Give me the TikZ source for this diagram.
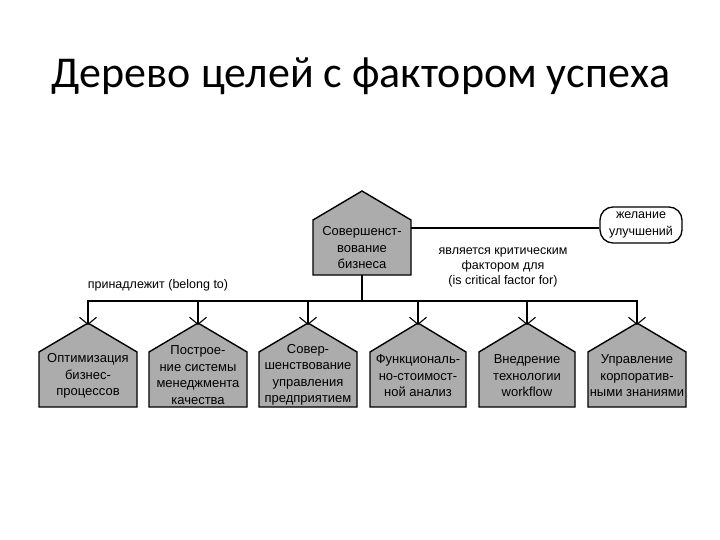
\documentclass[tikz,border=0pt]{standalone}
\usepackage{fontspec}
\setmainfont{Liberation Sans}
\newfontfamily\titlefont{Carlito}
\usetikzlibrary{arrows.meta}
\definecolor{housegray}{RGB}{172,172,172}
\newcommand\househ[8]{%
  \draw[housebox] (#2-#6,#5) -- (#2-#6,#4) -- (#2,#3) -- (#2+#6,#4) -- (#2+#6,#5) -- cycle;
  \coordinate (#1top) at (#2,#3);
  \node[htext] (#1) at (#2,#8) {#7};
}
\begin{document}
\begin{tikzpicture}[x=1pt,y=-1pt,
  housebox/.style={draw=black, line width=1.4pt, fill=housegray, line join=miter},
  htext/.style={align=center, font=\fontsize{13}{16.5}\selectfont, inner sep=0pt},
  link/.style={line width=1.2pt},
  foot/.style={-{Straight Barb[length=7pt,width=17pt,line width=1.1pt]}},
  lbl/.style={font=\fontsize{12.5}{15}\selectfont, align=center, inner sep=0pt}]
\useasboundingbox (0,0) rectangle (720,540);
\fill[white] (0,0) rectangle (720,540);

\node[font=\titlefont\fontsize{44}{50}\selectfont, anchor=base, inner sep=0pt] (title) at (361,88) {Дерево целей с фактором успеха};

% top goal
\househ{goal}{362}{191}{220}{275}{49}{Совершенст-\\вование\\бизнеса}{248}
\coordinate (goalbot) at (362,275);
\coordinate (goalright) at (411,228);

\node[draw=black, line width=1.3pt, rounded corners=13pt, minimum width=82pt, minimum height=36pt, align=center, font=\fontsize{12.5}{17}\selectfont, inner sep=0pt] (wish) at (641,225) {желание\\улучшений};
\draw[link] (goalright) -- (wish.west |- goalright);

\node[lbl] (crit) at (503,267) {является критическим\\фактором для\\(is critical factor for)};
\node[lbl] (belong) at (158,285) {принадлежит (belong to)};

% sub goals
\househ{h1}{88}{323}{352}{407}{49}{Оптимизация\\бизнес-\\процессов}{376}
\househ{h2}{198}{323}{352}{407}{49}{Построе-\\ние системы\\менеджмента\\качества}{375}
\househ{h3}{308}{323}{352}{407}{49}{Совер-\\шенствование\\управления\\предприятием}{375}
\househ{h4}{418}{323}{352}{407}{48}{Функциональ-\\но-стоимост-\\ной анализ}{376}
\househ{h5}{527}{323}{352}{407}{48}{Внедрение\\технологии\\workflow}{376}
\househ{h6}{637}{323}{352}{407}{49}{Управление\\корпоратив-\\ными знаниями}{376}

\coordinate (bus) at (362,301);
\draw[link] (goalbot) -- (bus);
\foreach \h in {h1,h2,h3,h4,h5,h6}{
  \draw[link,foot] (bus) -| ([yshift=-2pt]\h top);
}
\end{tikzpicture}
\end{document}
